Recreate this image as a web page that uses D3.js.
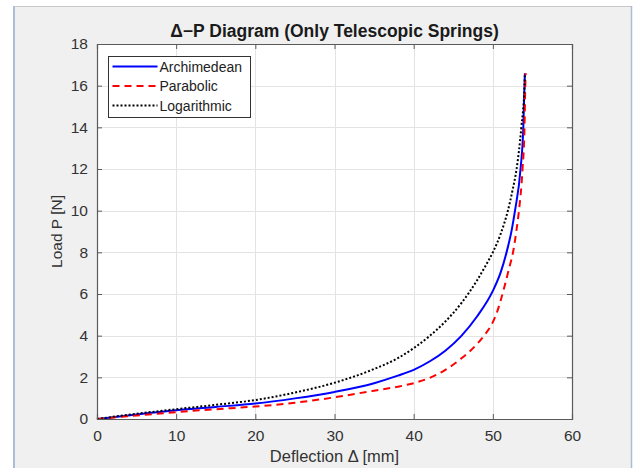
<!DOCTYPE html>
<html>
<head>
<meta charset="utf-8">
<script src="https://cdn.jsdelivr.net/npm/d3@7"></script>
<style>
  html, body { margin: 0; padding: 0; background: #fff; }
  svg { display: block; font-family: "Liberation Sans", Arial, sans-serif; }
</style>
</head>
<body>
<div id="chart"></div>
<script>
// Values: [deflection mm, load N]
const archimedean = [
    [0, 0], [5, 0.22], [10, 0.42], [15, 0.58], [20, 0.74], [25, 0.99], [30, 1.3],
    [35, 1.72], [38, 2.08], [40, 2.36], [42, 2.76], [44, 3.28], [46, 3.98], [48, 4.92],
    [50, 6.15], [51, 7.05], [51.7, 7.95], [52.4, 9.1], [52.8, 10], [53.5, 12],
    [53.85, 14], [54.0, 16], [54.05, 16.6]
];
const parabolic = [
    [0, 0], [5, 0.17], [10, 0.33], [15, 0.47], [20, 0.6], [25, 0.78], [30, 1.04],
    [35, 1.36], [38, 1.55], [40, 1.72], [42, 1.97], [44, 2.36], [46, 2.9], [47, 3.22],
    [48, 3.6], [49, 4.05], [50, 4.65], [50.5, 5.1], [51, 5.7], [51.5, 6.4], [52, 7.15],
    [52.6, 8.1], [53.0, 9.1], [53.3, 10], [53.75, 12], [54.0, 14], [54.1, 16],
    [54.15, 16.6]
];
const logarithmic = [
    [0, 0], [5, 0.25], [10, 0.47], [15, 0.68], [20, 0.91], [25, 1.27], [30, 1.74],
    [35, 2.4], [38, 2.92], [40, 3.4], [42, 3.98], [44, 4.68], [46, 5.55], [48, 6.65],
    [49, 7.3], [50, 8.0], [51, 8.9], [51.9, 10], [52.5, 11], [53.0, 12], [53.6, 14],
    [54.0, 16], [54.05, 16.6]
];
const xTicks = [0, 10, 20, 30, 40, 50, 60];
const yTicks = [0, 2, 4, 6, 8, 10, 12, 14, 16, 18];
const seriesNames = ['Archimedean', 'Parabolic', 'Logarithmic'];

const width = 633, height = 468;
const plot = { left: 97, right: 572, top: 44, bottom: 419 };

const svg = d3.select('#chart').append('svg')
    .attr('width', width)
    .attr('height', height);

// Window frame look: white strip, border, grey figure area
svg.append('rect').attr('x', 0).attr('y', 0).attr('width', width).attr('height', height).attr('fill', '#ffffff');
svg.append('rect').attr('x', 15).attr('y', 7).attr('width', 616).attr('height', height - 7).attr('fill', '#f0f0f0');
svg.append('line').attr('x1', 14).attr('x2', 14).attr('y1', 6).attr('y2', height)
    .attr('stroke', '#a9bdd6').attr('stroke-width', 2);
svg.append('line').attr('x1', 14).attr('x2', 632).attr('y1', 6.5).attr('y2', 6.5)
    .attr('stroke', '#c8c8c8').attr('stroke-width', 1);
svg.append('line').attr('x1', 631.5).attr('x2', 631.5).attr('y1', 6).attr('y2', height)
    .attr('stroke', '#a9bdd6').attr('stroke-width', 1.5);

const x = d3.scaleLinear().domain([0, 60]).range([plot.left, plot.right]);
const y = d3.scaleLinear().domain([0, 18]).range([plot.bottom, plot.top]);

// Plot area
svg.append('rect')
    .attr('x', plot.left).attr('y', plot.top)
    .attr('width', plot.right - plot.left).attr('height', plot.bottom - plot.top)
    .attr('fill', '#ffffff');

// Grid
const grid = svg.append('g').attr('stroke', '#e3e3e3').attr('stroke-width', 1);
grid.selectAll('.vx').data(xTicks.slice(1, -1)).enter().append('line')
    .attr('x1', d => Math.round(x(d)) + 0.5).attr('x2', d => Math.round(x(d)) + 0.5)
    .attr('y1', plot.top).attr('y2', plot.bottom);
grid.selectAll('.hy').data(yTicks.slice(1, -1)).enter().append('line')
    .attr('y1', d => Math.round(y(d)) + 0.5).attr('y2', d => Math.round(y(d)) + 0.5)
    .attr('x1', plot.left).attr('x2', plot.right);

// Series
const line = d3.line()
    .x(d => x(d[0]))
    .y(d => y(d[1]))
    .curve(d3.curveMonotoneX);

const styles = [
    { data: archimedean, color: '#0000ff', dash: null },
    { data: parabolic, color: '#ff0000', dash: '7,5' },
    { data: logarithmic, color: '#000000', dash: '2,2' }
];

styles.forEach(s => {
    svg.append('path')
        .datum(s.data)
        .attr('d', line)
        .attr('fill', 'none')
        .attr('stroke', s.color)
        .attr('stroke-width', 2)
        .attr('stroke-dasharray', s.dash);
});

// Axes (box with inward ticks)
const axisColor = '#5a5a5a';
const tickLen = 5;
const bottomAxis = svg.append('g')
    .attr('transform', `translate(0,${plot.bottom})`)
    .call(d3.axisBottom(x).tickValues(xTicks).tickSize(-tickLen).tickPadding(11));
const topAxis = svg.append('g')
    .attr('transform', `translate(0,${plot.top})`)
    .call(d3.axisTop(x).tickValues(xTicks).tickSize(-tickLen).tickFormat(''));
const leftAxis = svg.append('g')
    .attr('transform', `translate(${plot.left},0)`)
    .call(d3.axisLeft(y).tickValues(yTicks).tickSize(-tickLen).tickPadding(9));
const rightAxis = svg.append('g')
    .attr('transform', `translate(${plot.right},0)`)
    .call(d3.axisRight(y).tickValues(yTicks).tickSize(-tickLen).tickFormat(''));

[bottomAxis, topAxis, leftAxis, rightAxis].forEach(a => {
    a.select('.domain').attr('stroke', axisColor).attr('stroke-width', 1.2);
    a.selectAll('.tick line').attr('stroke', axisColor);
    a.selectAll('.tick text')
        .attr('fill', '#333333')
        .style('font-size', '15.5px')
        .style('font-family', '"Liberation Sans", Arial, sans-serif');
});

// Title and labels
svg.append('text')
    .attr('x', (plot.left + plot.right) / 2)
    .attr('y', 37)
    .attr('text-anchor', 'middle')
    .style('font-size', '17.5px')
    .style('font-weight', 'bold')
    .attr('fill', '#1a1a1a')
    .text('\u0394\u2212P Diagram (Only Telescopic Springs)');

svg.append('text')
    .attr('x', (plot.left + plot.right) / 2)
    .attr('y', 462)
    .attr('text-anchor', 'middle')
    .style('font-size', '16.5px')
    .attr('fill', '#333333')
    .text('Deflection \u0394 [mm]');

svg.append('text')
    .attr('transform', `translate(62,${(plot.top + plot.bottom) / 2}) rotate(-90)`)
    .attr('text-anchor', 'middle')
    .style('font-size', '15.5px')
    .attr('fill', '#333333')
    .text('Load P [N]');

// Legend
const legend = svg.append('g').attr('transform', 'translate(108.5,56.5)');
legend.append('rect')
    .attr('width', 142).attr('height', 61)
    .attr('fill', '#ffffff')
    .attr('stroke', '#333333')
    .attr('stroke-width', 1);

styles.forEach((s, i) => {
    const g = legend.append('g').attr('transform', `translate(0,${10 + i * 19.5})`);
    g.append('line')
        .attr('x1', 4).attr('x2', 49)
        .attr('y1', 0).attr('y2', 0)
        .attr('stroke', s.color)
        .attr('stroke-width', 2)
        .attr('stroke-dasharray', s.dash);
    g.append('text')
        .attr('x', 51)
        .attr('y', 5)
        .style('font-size', '14px')
        .attr('fill', '#222222')
        .text(seriesNames[i]);
});
</script>
</body>
</html>
